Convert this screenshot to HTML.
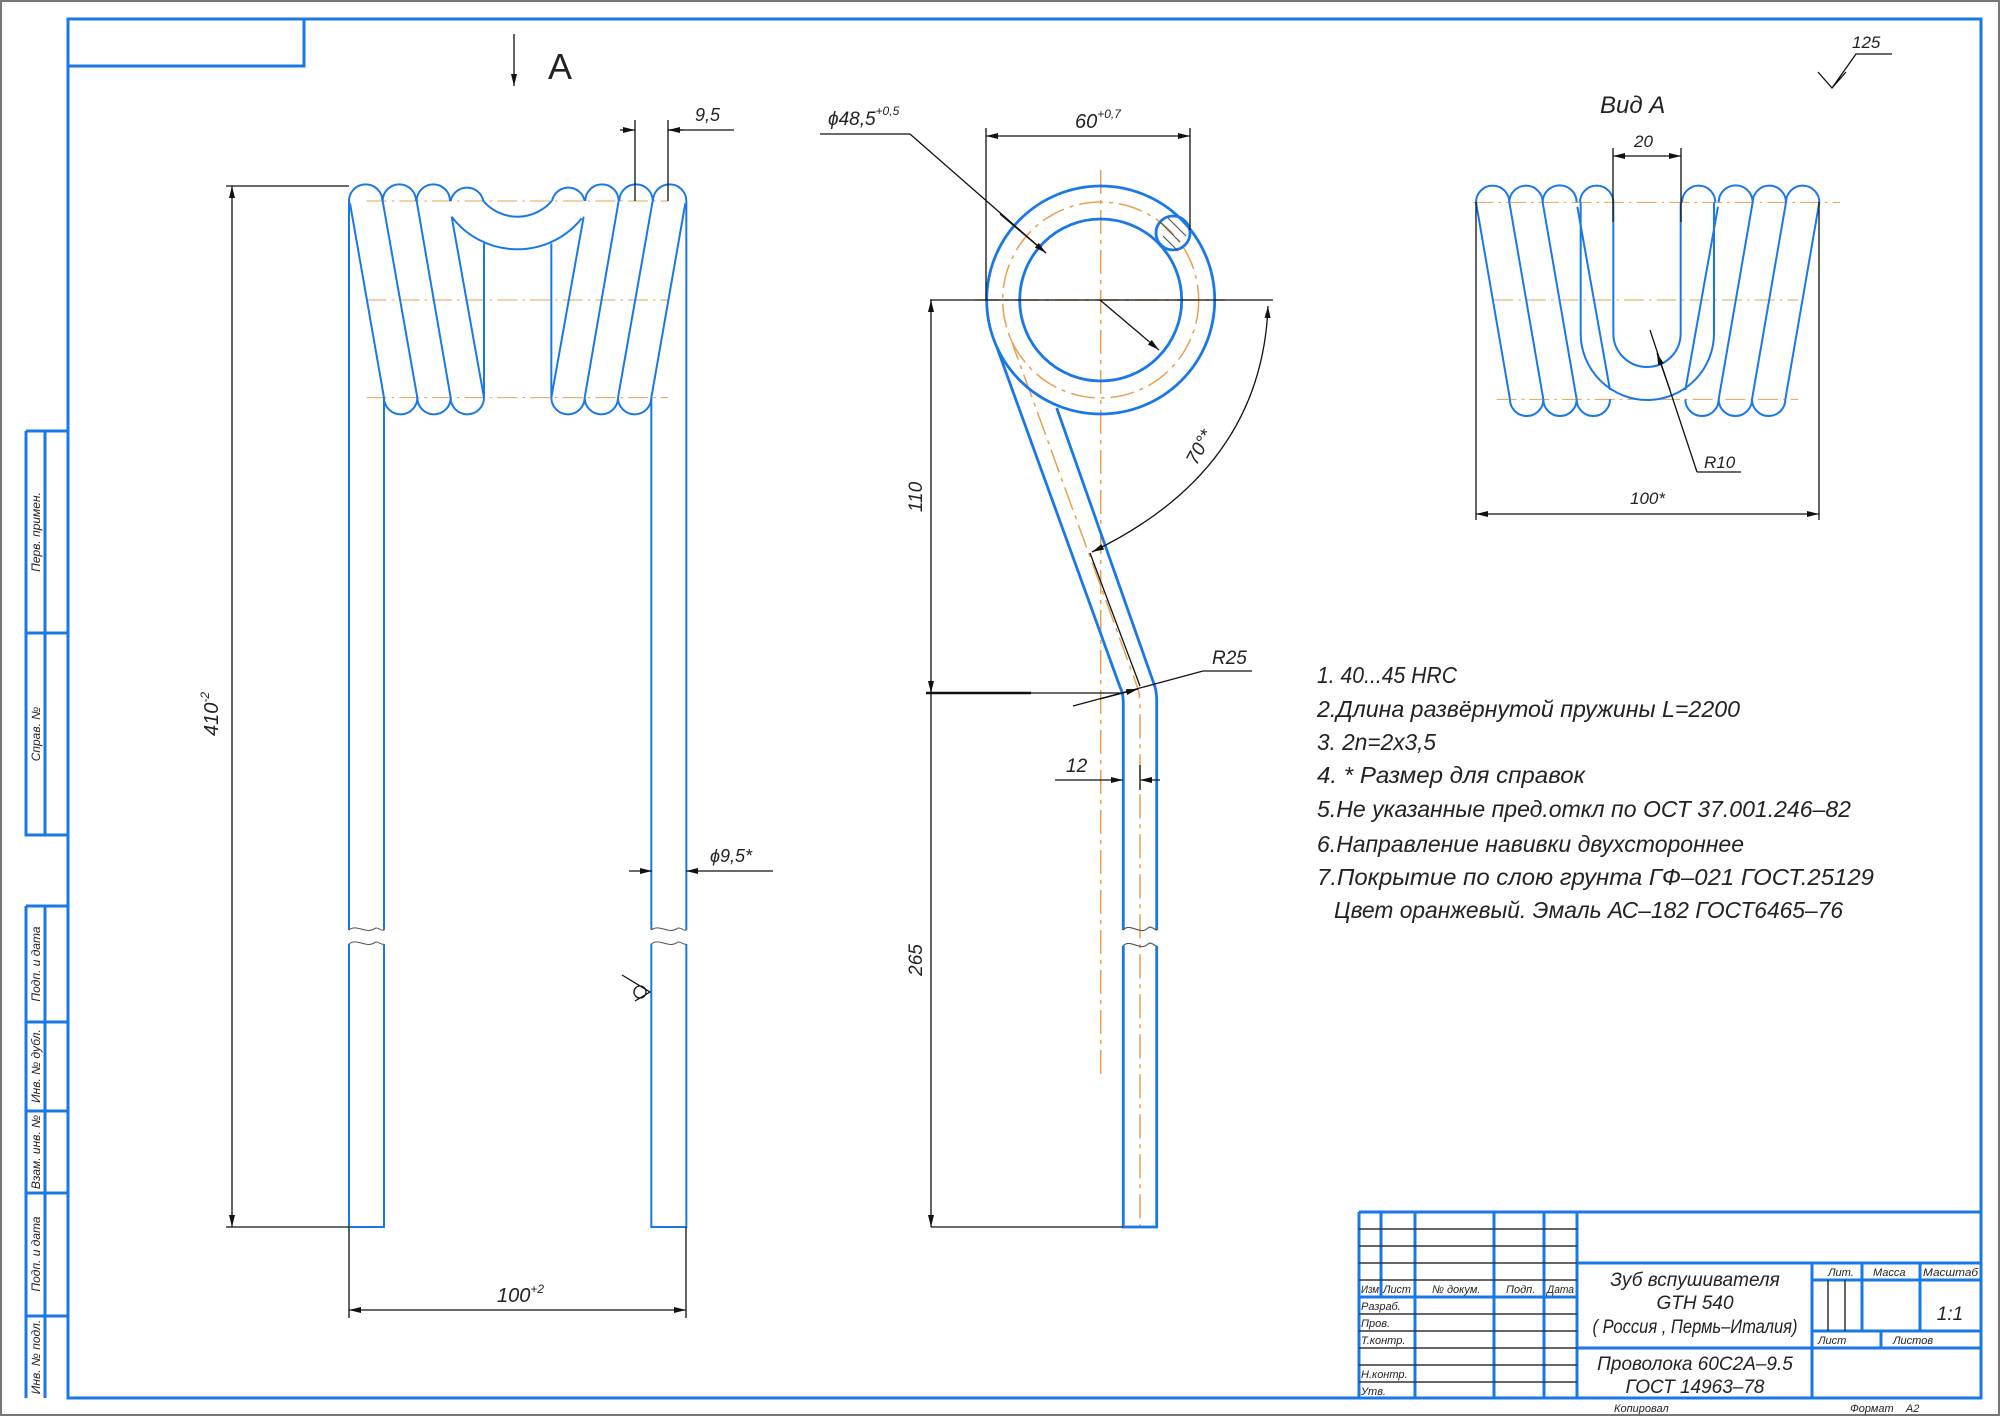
<!DOCTYPE html>
<html><head><meta charset="utf-8"><style>
html,body{margin:0;padding:0;background:#fff}
svg{display:block}
text{font-family:"Liberation Sans","DejaVu Sans",sans-serif;font-style:italic;fill:#222}
</style></head><body>
<svg width="2000" height="1416" viewBox="0 0 2000 1416" xmlns="http://www.w3.org/2000/svg">
<defs>
<marker id="ar" viewBox="0 0 12 6" refX="12" refY="3" markerWidth="12" markerHeight="6" markerUnits="userSpaceOnUse" orient="auto-start-reverse"><path d="M0,0 L12,3 L0,6 Z" fill="#111"/></marker>
</defs>
<rect x="1" y="1" width="1998" height="1414" fill="none" stroke="#777" stroke-width="2"/>
<g fill="none" stroke="#1a78e6" stroke-width="3">
<rect x="68" y="19" width="1913" height="1379"/>
<rect x="68" y="19" width="236" height="47"/>
<path d="M26,431 H68 M26,431 V835 H68 M45,431 V835 M26,633 H68"/>
<path d="M26,906 H68 M26,906 V1398 M45,906 V1398 M26,1022 H68 M26,1111 H68 M26,1193 H68 M26,1316 H68"/>
</g>
<g font-size="12" fill="#333">
<text transform="translate(40,532) rotate(-90)" text-anchor="middle">Перв. примен.</text>
<text transform="translate(40,734) rotate(-90)" text-anchor="middle">Справ. №</text>
<text transform="translate(40,964) rotate(-90)" text-anchor="middle">Подп. и дата</text>
<text transform="translate(40,1066) rotate(-90)" text-anchor="middle">Инв. № дубл.</text>
<text transform="translate(40,1152) rotate(-90)" text-anchor="middle">Взам. инв. №</text>
<text transform="translate(40,1254) rotate(-90)" text-anchor="middle">Подп. и дата</text>
<text transform="translate(40,1357) rotate(-90)" text-anchor="middle">Инв. № подл.</text>
</g>

<!-- Title block -->
<g fill="none" stroke="#1a78e6" stroke-width="3">
<path d="M1359,1212 H1981 M1359,1212 V1398"/>
<path d="M1381,1212 V1297 M1415,1212 V1398 M1494,1212 V1398 M1544,1212 V1398 M1577,1212 V1398"/>
<path d="M1359,1297 H1577 M1577,1263 H1981 M1577,1348 H1981 M1812,1263 V1398 M1812,1280 H1981 M1812,1331 H1981 M1862,1263 V1331 M1920,1263 V1331 M1881,1331 V1348"/>
</g>
<g fill="none" stroke="#333" stroke-width="1.5">
<path d="M1359,1229 H1577 M1359,1246 H1577 M1359,1263 H1577 M1359,1280 H1577 M1359,1314 H1577 M1359,1331 H1577 M1359,1348 H1577 M1359,1365 H1577 M1359,1382 H1577"/>
<path d="M1828,1280 V1331 M1845,1280 V1331"/>
</g>
<g font-size="11" fill="#333">
<text x="1361" y="1293" textLength="18" lengthAdjust="spacingAndGlyphs">Изм</text><text x="1383" y="1293" textLength="28" lengthAdjust="spacingAndGlyphs">Лист</text><text x="1432" y="1293">№ докум.</text><text x="1506" y="1293">Подп.</text><text x="1547" y="1293" textLength="27" lengthAdjust="spacingAndGlyphs">Дата</text>
<text x="1361" y="1310">Разраб.</text><text x="1361" y="1327">Пров.</text><text x="1361" y="1344">Т.контр.</text><text x="1361" y="1378">Н.контр.</text><text x="1361" y="1395">Утв.</text>
<text x="1828" y="1276">Лит.</text><text x="1873" y="1276">Масса</text><text x="1923" y="1276" textLength="55" lengthAdjust="spacingAndGlyphs">Масштаб</text>
<text x="1818" y="1344">Лист</text><text x="1893" y="1344">Листов</text>
<text x="1614" y="1412">Копировал</text><text x="1850" y="1412">Формат&#160;&#160;&#160;&#160;A2</text>
</g>
<g font-size="19" fill="#222" text-anchor="middle">
<text x="1695" y="1286">Зуб вспушивателя</text>
<text x="1695" y="1309">GTH 540</text>
<text x="1695" y="1333" textLength="205" lengthAdjust="spacingAndGlyphs">( Россия , Пермь–Италия)</text>
<text x="1695" y="1370">Проволока 60С2А–9.5</text>
<text x="1695" y="1393">ГОСТ 14963–78</text>
<text x="1950" y="1320">1:1</text>
</g>

<!-- Left view -->
<g transform="translate(330,170) scale(0.33333)" fill="none">
<g stroke="#e8a050" stroke-width="3" stroke-dasharray="60,15,8,15">
<path d="M110,93 H1015 M110,390 H1015 M110,683 H1015"/>
</g>
<g stroke="#1a78e6" stroke-width="6">
<path d="M57,93 V2280 M162,683 V2280 M57,2322 V3171 H162 V2322"/>
<path d="M57,93 A50,50 0 0 1 157,93 M158,93 A50,50 0 0 1 258,93 M260,93 A50,50 0 0 1 360,93 M362,93 A50,50 0 0 1 460,93"/>
<path d="M60,100 L162,683 M158,93 L262,683 M260,93 L362,683 M365,140 L462,683 M462,220 V683"/>
<path d="M162,683 A50,50 0 0 0 262,683 M262,683 A50,50 0 0 0 362,683 M362,683 A50,50 0 0 0 462,683"/>
</g>
<g transform="translate(1126,0) scale(-1,1)" stroke="#1a78e6" stroke-width="6">
<path d="M57,93 V2280 M162,683 V2280 M57,2322 V3171 H162 V2322"/>
<path d="M57,93 A50,50 0 0 1 157,93 M158,93 A50,50 0 0 1 258,93 M260,93 A50,50 0 0 1 360,93 M362,93 A50,50 0 0 1 460,93"/>
<path d="M60,100 L162,683 M158,93 L262,683 M260,93 L362,683 M365,140 L462,683 M462,220 V683"/>
<path d="M162,683 A50,50 0 0 0 262,683 M262,683 A50,50 0 0 0 362,683 M362,683 A50,50 0 0 0 462,683"/>
</g>
<path stroke="#1a78e6" stroke-width="6" d="M460,93 A135,135 0 0 0 665,93 M365,140 A247,247 0 0 0 755,145"/>
<g stroke="#555" stroke-width="3">
<path d="M57,2280 C80,2260 110,2295 135,2275 C145,2270 155,2285 162,2280 M57,2322 C80,2302 110,2337 135,2317 C145,2312 155,2327 162,2322"/>
<path d="M964,2280 C987,2260 1017,2295 1042,2275 C1052,2270 1062,2285 1069,2280 M964,2322 C987,2302 1017,2337 1042,2317 C1052,2312 1062,2327 1069,2322"/>
</g>
</g>
<g stroke="#111" stroke-width="1.3" fill="none">
<path d="M226,186 H349 M226,1227 H349"/>
<path d="M232,186 V1227" marker-start="url(#ar)" marker-end="url(#ar)"/>
<path d="M349,1227 V1318 M686,1227 V1318"/>
<path d="M349,1310 H686" marker-start="url(#ar)" marker-end="url(#ar)"/>
<path d="M635,120 V201 M668,120 V201"/>
<path d="M668,130 H734"/>
<path d="M620,130 H635" marker-end="url(#ar)"/><path d="M683,130 H668" marker-end="url(#ar)"/>
<path d="M629,871 H652" marker-end="url(#ar)"/><path d="M773,871 H686" marker-end="url(#ar)"/>
<path d="M514,34 V86" marker-end="url(#ar)"/>
<path d="M622,975 L650,992 L635,1001"/><circle cx="640" cy="992" r="6"/>
</g>
<text x="218" y="714" font-size="20" transform="rotate(-90 218 714)" text-anchor="middle">410<tspan font-size="12" dy="-9">-2</tspan></text>
<text x="497" y="1302" font-size="20">100<tspan font-size="12" dy="-9">+2</tspan></text>
<text x="695" y="121" font-size="18">9,5</text>
<text x="710" y="862" font-size="18">ϕ9,5*</text>
<text x="548" y="79" font-size="36" style="font-style:normal">A</text>

<!-- Middle view -->
<g fill="none">
<g stroke="#e8a050" stroke-width="1.5" stroke-dasharray="24,6,4,6">
<circle cx="1100.7" cy="300" r="98"/>
<path d="M1100.7,170 V1078 M975,300 H1225"/>
<path d="M1010,337 L1137,686 Q1140,693 1140,705 V1227"/>
</g>
<g stroke="#1a78e6" stroke-width="2.8">
<circle cx="1100.7" cy="300" r="114"/>
<circle cx="1100.7" cy="300" r="81"/>
<circle cx="1173" cy="233" r="17"/>
<path d="M996.7,346.7 L1120,687 Q1123,692 1123.3,702 V930 M1123.3,946 V1227 H1156.7 V946 M1156.7,930 V702 Q1157,692 1154,684 L1056.7,408"/>
</g>
<g stroke="#555" stroke-width="1.2">
<path d="M1160,222 L1180,242 M1163,236 L1178,251 M1168,218 L1186,236"/>
<path d="M1123,930 C1130,922 1140,936 1148,928 C1152,925 1155,931 1157,930 M1123,946 C1130,938 1140,952 1148,944 C1152,941 1155,947 1157,946"/>
</g>
<g stroke="#111" stroke-width="1.3">
<path d="M986,300 V128 M1190,230 V128"/>
<path d="M986,136 H1190" marker-start="url(#ar)" marker-end="url(#ar)"/>
<path d="M820,134 H910 L1046,253"/>
<path d="M1000,214 L1046,253" marker-end="url(#ar)"/>
<path d="M1100,300 L1159,350" marker-end="url(#ar)"/>
<path d="M930,300 H1273"/>
<path d="M931,300 V693" marker-start="url(#ar)"/>
<path d="M931,693 V1227" marker-end="url(#ar)"/>
<path d="M931,680 V693" marker-end="url(#ar)"/>
<path d="M931,1227 H1123"/>
<path d="M926,693 H1031" stroke-width="2.5"/><path d="M1031,693 H1123"/>
<path d="M1073,706 L1203,671 H1252"/>
<path d="M1100,699 L1138,689" marker-end="url(#ar)"/>
<path d="M1055,780 H1123" marker-end="url(#ar)"/><path d="M1160,780 H1140" marker-end="url(#ar)"/>
<path d="M1140,765 V790"/>
<path d="M1268,306 Q1262,470 1092,552" marker-start="url(#ar)" marker-end="url(#ar)"/>
<path d="M1090,553 L1140,686"/>
</g>
</g>
<text x="1075" y="128" font-size="20">60<tspan font-size="12" dy="-10">+0,7</tspan></text>
<text x="828" y="125" font-size="19">ϕ48,5<tspan font-size="12" dy="-10">+0,5</tspan></text>
<text x="922" y="497" font-size="19" transform="rotate(-90 922 497)" text-anchor="middle">110</text>
<text x="922" y="960" font-size="19" transform="rotate(-90 922 960)" text-anchor="middle">265</text>
<text x="1212" y="664" font-size="19">R25</text>
<text x="1066" y="772" font-size="19">12</text>
<text x="1205" y="450" font-size="19" transform="rotate(-62 1205 450)" text-anchor="middle">70°*</text>

<!-- Right view -->
<g transform="translate(1460,170) scale(0.33333)" fill="none">
<g stroke="#e8a050" stroke-width="3" stroke-dasharray="60,15,8,15">
<path d="M40,97 H1140 M100,390 H1015 M110,688 H1015"/>
</g>
<g stroke="#1a78e6" stroke-width="6">
<path d="M48,97 A50,50 0 0 1 148,97 M148,97 A50,50 0 0 1 248,97 M248,97 A51,51 0 0 1 350,97 M360,97 A50,50 0 0 1 460,97"/>
<path d="M48,97 L150,688 M148,97 L250,688 M248,97 L350,688 M352,110 L450,660"/>
<path d="M150,688 A50,50 0 0 0 250,688 M250,688 A50,50 0 0 0 350,688 M350,688 A50,50 0 0 0 450,688"/>
</g>
<g transform="translate(1126,0) scale(-1,1)" stroke="#1a78e6" stroke-width="6">
<path d="M48,97 A50,50 0 0 1 148,97 M148,97 A50,50 0 0 1 248,97 M248,97 A51,51 0 0 1 350,97 M360,97 A50,50 0 0 1 460,97"/>
<path d="M48,97 L150,688 M148,97 L250,688 M248,97 L350,688 M352,110 L450,660"/>
<path d="M150,688 A50,50 0 0 0 250,688 M250,688 A50,50 0 0 0 350,688 M350,688 A50,50 0 0 0 450,688"/>
</g>
<path stroke="#1a78e6" stroke-width="6" d="M460,97 V490 A101,101 0 0 0 662,490 V97 M362,97 V490 A200,200 0 0 0 762,490 V97"/>
</g>
<g stroke="#111" stroke-width="1.3" fill="none">
<path d="M1476,202 V520 M1819,202 V520"/>
<path d="M1476,514 H1819" marker-start="url(#ar)" marker-end="url(#ar)"/>
<path d="M1613,148 V222 M1681,148 V222"/>
<path d="M1613,156 H1681" marker-start="url(#ar)" marker-end="url(#ar)"/>
<path d="M1697,472 L1650,330 M1697,472 H1741"/>
<path d="M1670,390 L1657,353" marker-end="url(#ar)"/>
<path d="M1818,72 L1832,88 L1846,72 M1832,88 L1856,54 H1892"/>
</g>
<text x="1600" y="113" font-size="24">Вид А</text>
<text x="1634" y="147" font-size="17">20</text>
<text x="1630" y="504" font-size="17">100*</text>
<text x="1704" y="468" font-size="17">R10</text>
<text x="1852" y="48" font-size="17">125</text>

<!-- Notes -->
<g font-size="23" fill="#111">
<text x="1317" y="683" textLength="140" lengthAdjust="spacingAndGlyphs">1. 40...45 HRC</text>
<text x="1317" y="717" textLength="423" lengthAdjust="spacingAndGlyphs">2.Длина развёрнутой пружины L=2200</text>
<text x="1317" y="750" textLength="119" lengthAdjust="spacingAndGlyphs">3. 2n=2x3,5</text>
<text x="1317" y="783" textLength="268" lengthAdjust="spacingAndGlyphs">4.  * Размер для справок</text>
<text x="1317" y="817" textLength="534" lengthAdjust="spacingAndGlyphs">5.Не указанные пред.откл по ОСТ 37.001.246–82</text>
<text x="1317" y="852" textLength="427" lengthAdjust="spacingAndGlyphs">6.Направление навивки двухстороннее</text>
<text x="1317" y="885" textLength="557" lengthAdjust="spacingAndGlyphs">7.Покрытие по слою грунта ГФ–021 ГОСТ.25129</text>
<text x="1334" y="918" textLength="509" lengthAdjust="spacingAndGlyphs">Цвет оранжевый. Эмаль АС–182 ГОСТ6465–76</text>
</g>
</svg>
</body></html>
